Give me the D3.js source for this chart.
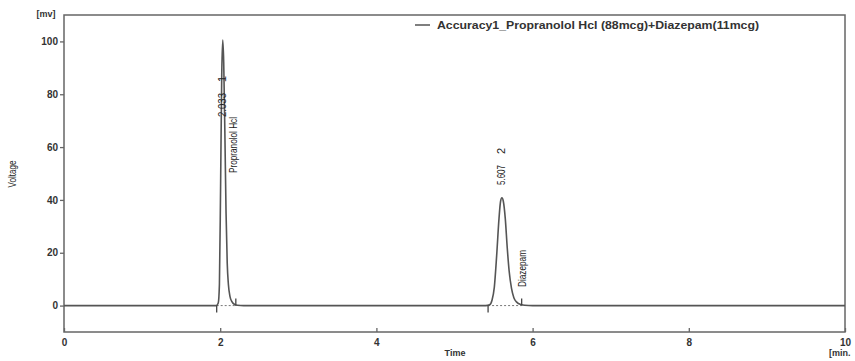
<!DOCTYPE html>
<html>
<head>
<meta charset="utf-8">
<script src="https://cdn.jsdelivr.net/npm/d3@7"></script>
<style>
  body { margin: 0; background: #fff; }
  svg { display: block; }
  .tick text { font-family: "Liberation Sans", Arial, sans-serif; font-weight: bold; font-size: 10px; fill: #333; }
  .lbl { font-family: "Liberation Sans", Arial, sans-serif; font-size: 11px; fill: #222; }
</style>
</head>
<body>
<div id="chart"></div>
<script>
// trace: retention time [min], signal [mV]
const traceTime = [0, 1.95, 1.975, 1.99, 2.005, 2.02, 2.033, 2.045, 2.06, 2.075, 2.09, 2.105, 2.125, 2.15, 2.18, 2.22, 2.3,
  5.40, 5.45, 5.48, 5.51, 5.54, 5.57, 5.59, 5.607, 5.625, 5.65, 5.675, 5.70, 5.73, 5.76, 5.80, 5.85, 5.9, 6.0, 10];
const traceMv = [0, 0, 1, 8, 45, 88, 100.5, 92, 65, 35, 16, 8, 3.5, 1.5, 0.5, 0.1, 0,
  0, 0.3, 2, 7, 19, 33, 39.5, 40.8, 39.5, 33, 22, 13, 6.5, 3, 1.2, 0.4, 0.1, 0, 0];

// peak table
const peakNames = ['Propranolol Hcl', 'Diazepam'];
const peakRT = ['2.033', '5.607'];
const peakNo = ['1', '2'];
const peakStart = [1.955, 5.43];
const peakEnd = [2.2, 5.86];

const xTicks = [0, 2, 4, 6, 8, 10];
const yTicks = [0, 20, 40, 60, 80, 100];
const legendText = 'Accuracy1_Propranolol Hcl (88mcg)+Diazepam(11mcg)';

const W = 855, H = 361;
const margin = { top: 15, right: 10, bottom: 29, left: 64 };
const svg = d3.select('#chart').append('svg').attr('width', W).attr('height', H);

const x = d3.scaleLinear().domain([0, 10]).range([margin.left, W - margin.right]);
const y = d3.scaleLinear().domain([-10, 110]).range([H - margin.bottom, margin.top]);

const axisColor = '#666';

// frame
svg.append('rect')
  .attr('x', x(0)).attr('y', y(110))
  .attr('width', x(10) - x(0)).attr('height', y(-10) - y(110))
  .attr('fill', 'none').attr('stroke', axisColor).attr('stroke-width', 1.5);

// x axis, ticks point inward
const xAxis = svg.append('g')
  .attr('transform', `translate(0,${y(-10)})`)
  .call(d3.axisBottom(x).tickValues(xTicks).tickSizeInner(-4).tickSizeOuter(0).tickPadding(7));
xAxis.select('.domain').remove();
xAxis.selectAll('.tick line').attr('stroke', axisColor).attr('stroke-width', 1.3);

const yAxis = svg.append('g')
  .attr('transform', `translate(${x(0)},0)`)
  .call(d3.axisLeft(y).tickValues(yTicks).tickSize(4).tickPadding(2));
yAxis.select('.domain').remove();
yAxis.selectAll('.tick line').attr('stroke', axisColor).attr('stroke-width', 1.3);

// axis titles
svg.append('text').attr('x', 46).attr('y', 17).attr('text-anchor', 'middle')
  .attr('font-family', 'Liberation Sans, Arial, sans-serif').attr('font-weight', 'bold')
  .attr('font-size', 9).attr('fill', '#333').text('[mv]');
svg.append('text').attr('x', 829).attr('y', 356)
  .attr('font-family', 'Liberation Sans, Arial, sans-serif').attr('font-weight', 'bold')
  .attr('font-size', 9).attr('fill', '#333').text('[min.');
svg.append('text').attr('x', 455).attr('y', 356).attr('text-anchor', 'middle')
  .attr('font-family', 'Liberation Sans, Arial, sans-serif').attr('font-weight', 'bold')
  .attr('font-size', 9).attr('fill', '#333').text('Time');
svg.append('text').attr('class', 'lbl')
  .attr('transform', 'translate(16,174) rotate(-90)').attr('text-anchor', 'middle')
  .attr('font-size', 10).attr('textLength', 27).attr('lengthAdjust', 'spacingAndGlyphs')
  .text('Voltage');

// integration baselines
const peaks = peakNames.map((n, i) => ({ name: n, rt: +peakRT[i], rtText: peakRT[i], no: peakNo[i], s: peakStart[i], e: peakEnd[i] }));
svg.selectAll('line.base').data(peaks).enter().append('line')
  .attr('x1', d => x(d.s)).attr('x2', d => x(d.e))
  .attr('y1', y(0)).attr('y2', y(0))
  .attr('stroke', '#777').attr('stroke-width', 1).attr('stroke-dasharray', '2,2');

// trace
const pts = traceTime.map((t, i) => [t, traceMv[i]]);
svg.append('path').datum(pts)
  .attr('fill', 'none').attr('stroke', '#555').attr('stroke-width', 1.6)
  .attr('d', d3.line().x(d => x(d[0])).y(d => y(d[1])).curve(d3.curveMonotoneX));

// start / end markers
svg.selectAll('line.st').data(peaks).enter().append('line')
  .attr('x1', d => x(d.s)).attr('x2', d => x(d.s))
  .attr('y1', y(0)).attr('y2', y(0) + 7)
  .attr('stroke', '#444').attr('stroke-width', 1.3);
svg.selectAll('line.en').data(peaks).enter().append('line')
  .attr('x1', d => x(d.e)).attr('x2', d => x(d.e))
  .attr('y1', y(0)).attr('y2', y(0) - 7)
  .attr('stroke', '#444').attr('stroke-width', 1.3);

// peak labels (narrow, rotated)
const rtLabelY = [117, 185];
const rtLabelLen = [24, 20];
const nameLabelY = [173, 287];
const nameLabelX = [233, 522];
const nameLabelLen = [56, 37];
peaks.forEach((p, i) => {
  svg.append('text').attr('class', 'lbl')
    .attr('transform', `translate(${x(p.rt) + 3},${rtLabelY[i]}) rotate(-90)`)
    .attr('textLength', rtLabelLen[i]).attr('lengthAdjust', 'spacingAndGlyphs')
    .text(p.rtText);
  svg.append('text').attr('class', 'lbl')
    .attr('transform', `translate(${x(p.rt) + 3},${rtLabelY[i] - rtLabelLen[i] - 11}) rotate(-90)`)
    .text(p.no);
  svg.append('text').attr('class', 'lbl')
    .attr('transform', `translate(${nameLabelX[i] + 4},${nameLabelY[i]}) rotate(-90)`)
    .attr('textLength', nameLabelLen[i]).attr('lengthAdjust', 'spacingAndGlyphs')
    .text(p.name);
});

// legend
svg.append('line').attr('x1', 415).attr('x2', 430).attr('y1', 25).attr('y2', 25)
  .attr('stroke', '#555').attr('stroke-width', 1.5);
svg.append('text').attr('x', 437).attr('y', 29)
  .attr('font-family', 'Liberation Sans, Arial, sans-serif').attr('font-weight', 'bold')
  .attr('font-size', 11).attr('fill', '#333')
  .attr('textLength', 322).attr('lengthAdjust', 'spacingAndGlyphs')
  .text(legendText);
</script>
</body>
</html>
